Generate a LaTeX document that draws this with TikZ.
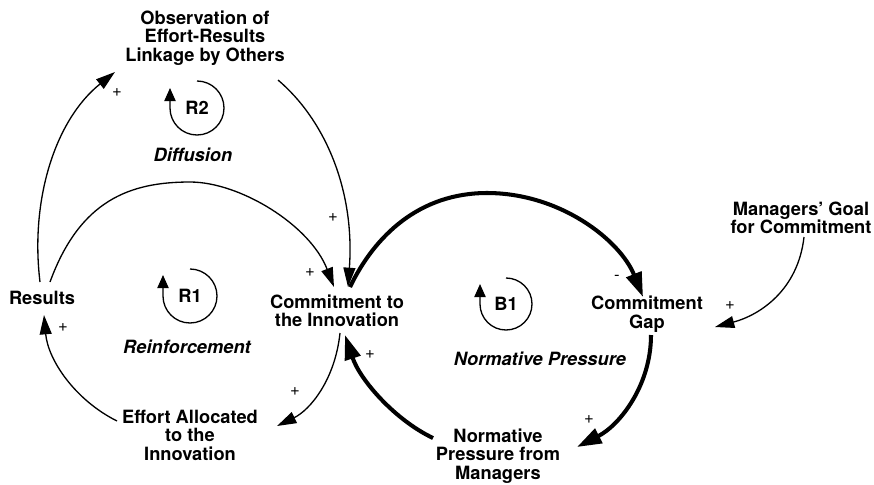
\documentclass[tikz,border=0pt]{standalone}
\usepackage{fontspec}
\setmainfont{TeX Gyre Heros}
\usetikzlibrary{arrows.meta,calc}
\begin{document}
\begin{tikzpicture}[x=0.02cm,y=-0.02cm,
	var/.style={align=center,inner sep=0pt,font=\fontsize{10.4}{10.5}\selectfont\bfseries},
	loopname/.style={inner sep=0pt,font=\fontsize{10.4}{10.5}\selectfont\bfseries\itshape},
	sign/.style={inner sep=0pt,font=\fontsize{9.5}{9.5}\selectfont},
	link/.style={line width=0.75pt,-{Triangle[length=11pt,width=6.8pt]}},
	thicklink/.style={line width=2.3pt,-{Triangle[length=14pt,width=9pt]}},
	loopsym/.style={line width=0.75pt,-{Triangle[length=7.5pt,width=6.5pt]}}]
			
			\useasboundingbox (0,0) rectangle (874,484);
			
			%Variables
			\node[var] (observation) at (205,38) {Observation of\\Effort-Results\\Linkage by Others};
			\node[var] (results) at (42,298) {Results};
			\node[var] (commitment) at (337,311) {Commitment to\\the Innovation};
			\node[var] (effort) at (190,435) {Effort Allocated\\to the\\Innovation};
			\node[var] (gap) at (647,314) {Commitment\\Gap};
			\node[var] (goal) at (801,218) {Managers’ Goal\\for Commitment};
			\node[var] (pressure) at (498,456) {Normative\\Pressure from\\Managers};
			
			%Loops
			\node[var] (r2) at (197,108) {R2};
			\draw[loopsym] ($(r2)+(0,-27)$) arc[start angle=-90,end angle=180,radius=27] -- ++(0,-20);
			\node[loopname] (diffusion) at (193,155) {Diffusion};
			\node[var] (r1) at (190,296) {R1};
			\draw[loopsym] ($(r1)+(0,-27)$) arc[start angle=-90,end angle=180,radius=27] -- ++(0,-21);
			\node[loopname] (reinforcement) at (187,347) {Reinforcement};
			\node[var] (b1) at (506,304) {B1};
			\draw[loopsym] ($(b1)+(0,-26)$) arc[start angle=-90,end angle=180,radius=26] -- ++(0,-20);
			\node[loopname] (normative) at (540,359) {Normative Pressure};
			
			%Links
			\draw[link] ($(results)+(-2,-16)$) .. controls (30,200) and (55,120) .. ($(observation)+(-90,34)$);
			\draw[link] ($(observation)+(73,42)$) .. controls (325,120) and (355,190) .. ($(commitment)+(11,-24)$);
			\draw[link] ($(results)+(8,-16)$) .. controls (80,200) and (130,182) .. (190,182) .. controls (240,182) and (310,225) .. ($(commitment)+(-3,-24)$);
			\draw[link] ($(commitment)+(3,22)$) .. controls (335,380) and (310,410) .. ($(effort)+(87,-9)$);
			\draw[link] ($(effort)+(-73,-14)$) .. controls (75,400) and (48,360) .. ($(results)+(2,17)$);
			\draw[link] ($(goal)+(3,19)$) .. controls (798,290) and (760,315) .. ($(gap)+(68,13)$);
			
			%Balancing loop
			\draw[thicklink] ($(commitment)+(13,-24)$) .. controls (375,235) and (420,193) .. (487,193) .. controls (560,193) and (620,240) .. ($(gap)+(-4,-17)$);
			\draw[thicklink] ($(gap)+(4,21)$) .. controls (651,385) and (620,425) .. ($(pressure)+(79,-9)$);
			\draw[thicklink] ($(pressure)+(-65,-18)$) .. controls (395,420) and (360,380) .. ($(commitment)+(8,24)$);
			
			%Polarities
			\node[sign] (p1) at (117,93) {+};
			\node[sign] (p2) at (333,218) {+};
			\node[sign] (p3) at (310,273) {+};
			\node[sign] (p4) at (295,392) {+};
			\node[sign] (p5) at (63,328) {+};
			\node[sign] (p6) at (617,278) {-};
			\node[sign] (p7) at (589,420) {+};
			\node[sign] (p8) at (370,355) {+};
			\node[sign] (p9) at (730,306) {+};
			
\end{tikzpicture}
\end{document}
